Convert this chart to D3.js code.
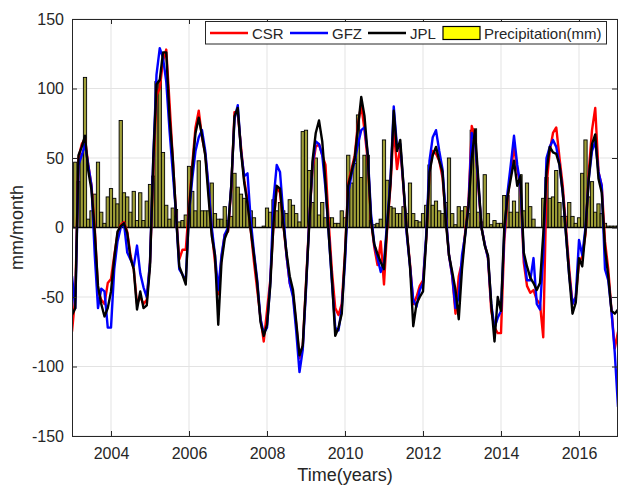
<!DOCTYPE html>
<html>
<head>
<meta charset="utf-8">
<script src="https://cdn.jsdelivr.net/npm/d3@7"></script>
<style>
  body { margin: 0; background: #fff; }
  text { font-family: "Liberation Sans", Arial, sans-serif; fill: #262626; }
</style>
</head>
<body>
<div id="vis"></div>
<script>
var width = 618;
var height = 486;
var margin = { top: 19, left: 72, bottom: 50, right: 0 };

// monthly series, first value = Jan 2003, step 1/12 year
var startYear = 2003;

var jpl = [
  -63, -58, 52, 58, 66, 41, 27, -3, -42, -55, -64, -58,
  -46, -22, -3, 1, 3, -4, -22, -30, -59, -46, -58, -56,
  -28, 48, 103, 106, 126, 126, 80, 50, 10, -28, -34, -41,
  12, 42, 68, 79, 66, 52, 22, -6, -20, -70, -25, -8,
  -2, 30, 80, 86, 55, 32, 17, -2, -20, -40, -68, -78,
  -70, -42, 3, 30, 28, 3, -18, -35, -45, -68, -92, -85,
  -42, 2, 48, 68, 77, 62, 32, -5, -38, -78, -72, -62,
  -20, 30, 40, 50, 72, 94, 80, 52, 5, -12, -19, -25,
  -30, 2, 32, 84, 55, 63, 30, -2, -28, -71, -55, -50,
  -46, -8, 40, 52, 58, 48, 40, 5, -20, -32, -45, -66,
  -30, -5, 15, 50, 70, 35, 0, -13, -20, -55, -82, -50,
  -60, 0, 22, 35, 48, 30, 37, -18, -28, -36, -40, -45,
  -40, -5, 40, 58, 54, 53, 45, 25, -5, -35, -62, -54,
  -22, -28, -2, 35, 60, 67, 35, 25, -15, -35, -60, -62, -59
];

var csr = [
  -75, -50, 50, 60, 64, 45, 30, 0, -45, -52, -55, -40,
  -37, -20, -5, 2, 4, -3, -20, -30, -55, -50, -55, -52,
  -25, 40, 95, 100, 120, 128, 90, 50, 10, -23, -16, -16,
  15, 45, 72, 84, 65, 53, 28, -3, -25, -48, -22, -5,
  -3, 28, 83, 82, 58, 34, 20, -2, -25, -45, -65, -82,
  -60, -38, 2, 29, 25, 3, -20, -40, -48, -70, -94, -85,
  -40, 5, 42, 58, 60, 52, 45, 3, -32, -58, -63, -55,
  -18, 32, 42, 52, 75, 88, 70, 48, 5, -14, -27, -10,
  -41, 0, 30, 72, 42, 58, 28, -3, -26, -55, -50, -42,
  -38, -8, 40, 55, 53, 48, 36, 8, -20, -35, -62, -35,
  -25, -3, 18, 73, 65, 30, 0, -12, -22, -60, -72, -76,
  -76, -10, 20, 40, 58, 42, 30, -25, -42, -47, -45, -52,
  -55, -79, 30, 55, 68, 72, 50, 30, 0, -30, -55, -50,
  -25, -21, -5, 40, 70, 86, 40, 30, -10, -30, -60, -87, -75
];

var gfz = [
  -35, -58, 45, 52, 60, 45, 30, -20, -58, -44, -46, -72,
  -72, -30, -10, 0, 3, -18, -23, -28, -13, -33, -43, -50,
  -25, 50, 110, 129, 122, 105, 70, 40, 10, -30, -34, -38,
  10, 35, 55, 65, 70, 55, 30, 0, -20, -45, -20, -5,
  0, 30, 78, 88, 55, 37, 39, 5, -18, -38, -66, -76,
  -72, -40, 20, 45, 40, 10, -20, -40, -50, -75, -104, -88,
  -45, 5, 45, 62, 60, 52, 28, -5, -40, -72, -74, -58,
  -25, 25, 38, 48, 60, 70, 72, 53, 10, -12, -22, -32,
  -25, 5, 35, 87, 58, 60, 30, -5, -28, -52, -57, -45,
  -40, -5, 48, 65, 70, 55, 42, 10, -20, -35, -58, -50,
  -20, -5, 15, 68, 62, 32, 0, -12, -22, -55, -72, -65,
  -60, -5, 25, 45, 66, 45, 30, -20, -38, -38, -22, -55,
  -59, -20, 50, 58, 63, 58, 45, 25, -5, -35, -55, -50,
  -9, -20, 0, 35, 55, 62, 40, 30, -30, -38, -60, -90, -129
];

// precipitation, first bar = Feb 2003
var precip = [
  47, 33, 53, 108, 6, 12, 24, 47, 11, 3, 22, 28,
  21, 17, 77, 25, 22, 11, 26, 5, 25, 5, 19, 31,
  37, 105, 106, 54, 16, 6, 14, 13, 4, 5, 9, 44,
  26, 12, 48, 12, 12, 12, 32, 10, 6, 6, 15, 5,
  8, 39, 29, 24, 21, 19, 12, 7, 0, 0, 1, 14,
  11, 20, 12, 18, 12, 10, 20, 16, 10, 4, 69, 70,
  41, 18, 50, 9, 18, 7, 7, 7, 3, 3, 12, 7,
  52, 32, 46, 81, 36, 52, 52, 5, 2, 3, 6, 63,
  34, 15, 14, 10, 10, 15, 10, 32, 10, 5, 4, 10,
  16, 45, 16, 19, 12, 10, 18, 50, 10, 2, 15, 12,
  15, 10, 70, 71, 11, 4, 38, 10, 2, 5, 3, 3,
  23, 23, 11, 19, 11, 38, 12, 32, 15, 6, 0, 0,
  21, 36, 21, 22, 41, 18, 8, 8, 18, 8, 3, 7,
  39, 63, 22, 33, 11, 17, 10, 3, 1, 1, 1, 1
];

var xTicks = [2004, 2006, 2008, 2010, 2012, 2014, 2016];
var yTicks = [-150, -100, -50, 0, 50, 100, 150];

var series = [
  { name: 'CSR', values: csr, color: '#ff0000' },
  { name: 'GFZ', values: gfz, color: '#0000ff' },
  { name: 'JPL', values: jpl, color: '#000000' }
];

var x = d3.scaleLinear()
  .domain([2003, 2017])
  .range([margin.left, width - margin.right]);

var y = d3.scaleLinear()
  .domain([-150, 150])
  .range([height - margin.bottom, margin.top]);

var svg = d3.select('#vis').append('svg')
  .attr('width', width)
  .attr('height', height);

svg.append('defs').append('clipPath')
  .attr('id', 'plot-clip')
  .append('rect')
  .attr('x', x(2003))
  .attr('y', y(150))
  .attr('width', x(2017) - x(2003))
  .attr('height', y(-150) - y(150));

// grid
var grid = svg.append('g').attr('class', 'grid');
grid.selectAll('.gx')
  .data(xTicks)
  .enter().append('line')
  .attr('x1', function (d) { return x(d); })
  .attr('x2', function (d) { return x(d); })
  .attr('y1', y(150))
  .attr('y2', y(-150))
  .attr('stroke', '#e3e3e3');
grid.selectAll('.gy')
  .data(yTicks)
  .enter().append('line')
  .attr('x1', x(2003))
  .attr('x2', x(2017))
  .attr('y1', function (d) { return y(d); })
  .attr('y2', function (d) { return y(d); })
  .attr('stroke', '#e3e3e3');

var plot = svg.append('g').attr('clip-path', 'url(#plot-clip)');

// precipitation bars
var barW = x(startYear + 1 / 12) - x(startYear);
plot.selectAll('.bar')
  .data(precip)
  .enter().append('rect')
  .attr('class', 'bar')
  .attr('x', function (d, i) { return x(startYear + (i + 1) / 12) - barW / 2; })
  .attr('y', function (d) { return y(d); })
  .attr('width', barW)
  .attr('height', function (d) { return y(0) - y(d); })
  .attr('fill', '#9f9f38')
  .attr('stroke', '#000')
  .attr('stroke-width', 0.9);

// bar baseline
plot.append('line')
  .attr('x1', x(2003))
  .attr('x2', x(2017))
  .attr('y1', y(0))
  .attr('y2', y(0))
  .attr('stroke', '#000')
  .attr('stroke-width', 1.5);

var line = d3.line()
  .x(function (d, i) { return x(startYear + i / 12); })
  .y(function (d) { return y(d); });

plot.selectAll('.series')
  .data(series)
  .enter().append('path')
  .attr('class', 'series')
  .attr('d', function (d) { return line(d.values); })
  .attr('fill', 'none')
  .attr('stroke', function (d) { return d.color; })
  .attr('stroke-width', 2.4)
  .attr('stroke-linejoin', 'round');

// axes, ticks pointing inward
var axisColor = '#262626';
var plainNum = function (d) { return String(d); };
var xAxis = svg.append('g')
  .attr('transform', 'translate(0,' + y(-150) + ')')
  .call(d3.axisBottom(x).tickValues(xTicks).tickFormat(plainNum)
    .tickSizeInner(-5).tickSizeOuter(0).tickPadding(12));
var yAxis = svg.append('g')
  .attr('transform', 'translate(' + x(2003) + ',0)')
  .call(d3.axisLeft(y).tickValues(yTicks).tickFormat(plainNum)
    .tickSizeInner(-5).tickSizeOuter(0).tickPadding(8));
var topAxis = svg.append('g')
  .attr('transform', 'translate(0,' + y(150) + ')')
  .call(d3.axisTop(x).tickValues(xTicks).tickFormat('')
    .tickSizeInner(-5).tickSizeOuter(0));
var rightAxis = svg.append('g')
  .attr('transform', 'translate(' + (x(2017) - 1) + ',0)')
  .call(d3.axisRight(y).tickValues(yTicks).tickFormat('')
    .tickSizeInner(-5).tickSizeOuter(0));

[xAxis, yAxis, topAxis, rightAxis].forEach(function (a) {
  a.selectAll('path, line').attr('stroke', axisColor);
  a.selectAll('text')
    .style('font-size', '16px')
    .style('font-family', '"Liberation Sans", Arial, sans-serif')
    .attr('fill', axisColor);
});

// axis titles
svg.append('text')
  .attr('x', (x(2003) + x(2017)) / 2)
  .attr('y', 481)
  .attr('text-anchor', 'middle')
  .style('font-size', '18px')
  .text('Time(years)');

svg.append('text')
  .attr('transform', 'translate(23,' + y(0) + ') rotate(-90)')
  .attr('text-anchor', 'middle')
  .style('font-size', '18px')
  .text('mm/month');

// legend
var legend = svg.append('g');
legend.append('rect')
  .attr('x', 205.5)
  .attr('y', 21.5)
  .attr('width', 401)
  .attr('height', 22.5)
  .attr('fill', '#fff')
  .attr('stroke', '#262626')
  .attr('stroke-width', 1);

var legendItems = [
  { x: 210, label: 'CSR', color: '#ff0000' },
  { x: 290, label: 'GFZ', color: '#0000ff' },
  { x: 368, label: 'JPL', color: '#000000' }
];
legendItems.forEach(function (d) {
  legend.append('line')
    .attr('x1', d.x).attr('x2', d.x + 38)
    .attr('y1', 33).attr('y2', 33)
    .attr('stroke', d.color)
    .attr('stroke-width', 2.4);
  legend.append('text')
    .attr('x', d.x + 42)
    .attr('y', 38.5)
    .style('font-size', '15px')
    .text(d.label);
});
legend.append('rect')
  .attr('x', 443).attr('y', 26.5)
  .attr('width', 37).attr('height', 13)
  .attr('fill', '#ffff00')
  .attr('stroke', '#000')
  .attr('stroke-width', 1.2);
legend.append('text')
  .attr('x', 484)
  .attr('y', 38.5)
  .style('font-size', '15px')
  .text('Precipitation(mm)');
</script>
</body>
</html>
